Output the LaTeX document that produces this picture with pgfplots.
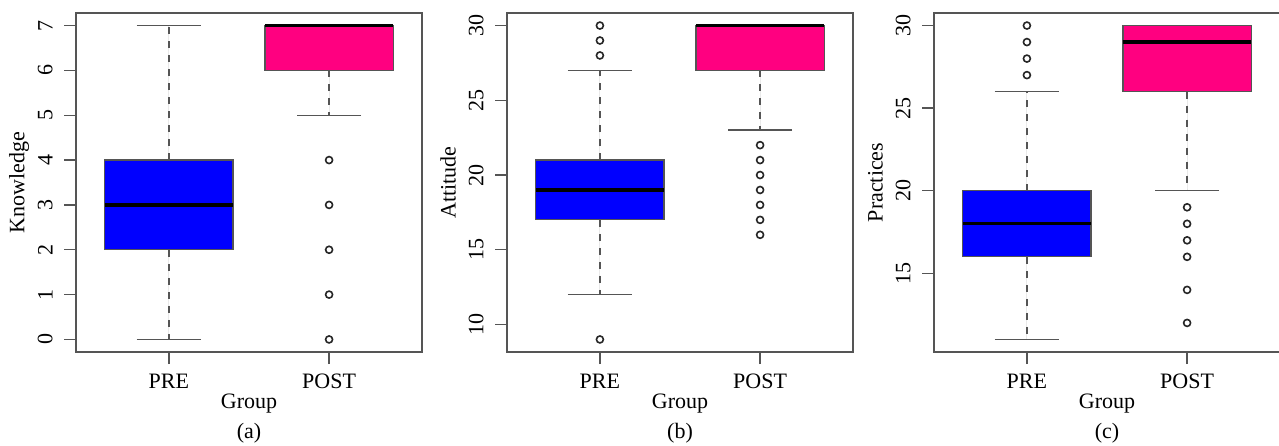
\documentclass[border=0pt]{standalone}
\usepackage{fontspec}
\setmainfont{Liberation Serif}
\usepackage{pgfplots}
\pgfplotsset{compat=1.18}
\usepgfplotslibrary{statistics}
\definecolor{rblue}{RGB}{0,0,255}
\definecolor{rpink}{RGB}{255,0,128}
\definecolor{rgray}{RGB}{85,85,85}
\newcommand{\fs}{\fontsize{11}{13}\selectfont}
\pgfplotsset{
  panel/.style={
    scale only axis, width=173pt, height=169.5pt, anchor=south west,
    xmin=0.42, xmax=2.58, xtick={1,2}, xticklabels={PRE,POST},
    xtick pos=bottom, ytick pos=left, tick align=outside,
    major tick length=6pt,
    axis line style={rgray, line width=0.7pt},
    tick style={rgray, line width=0.7pt},
    /pgf/number format/assume math mode=true,
    tick label style={font=\fs},
    xticklabel style={anchor=base},
    xticklabel shift=12pt,
    yticklabel style={rotate=90, anchor=south, inner sep=0pt},
    yticklabel shift=5.5pt,
    every axis x label/.style={at={([yshift=-28pt]axis description cs:0.5,0)}, anchor=base, font=\fs},
    every axis y label/.style={at={([xshift=-25.75pt]axis description cs:0,0.5)}, rotate=90, anchor=base, font=\fs},
    xlabel=Group,
    clip=false,
    boxplot/draw direction=y,
    boxplot/box extend=0.8,
    boxplot/whisker extend=0.4,
    boxplot/every median/.style={black, line width=1.6pt},
    boxplot/draw/lower whisker/.code={%
      \draw[rgray, line width=0.7pt, dash pattern=on 3.5pt off 3.5pt]
        (boxplot box cs:\pgfplotsboxplotvalue{lower quartile},0.5) --
        (boxplot box cs:\pgfplotsboxplotvalue{lower whisker},0.5);
      \draw[rgray, line width=0.7pt]
        (boxplot whisker cs:\pgfplotsboxplotvalue{lower whisker},0) --
        (boxplot whisker cs:\pgfplotsboxplotvalue{lower whisker},1);
    },
    boxplot/draw/upper whisker/.code={%
      \draw[rgray, line width=0.7pt, dash pattern=on 3.5pt off 3.5pt]
        (boxplot box cs:\pgfplotsboxplotvalue{upper quartile},0.5) --
        (boxplot box cs:\pgfplotsboxplotvalue{upper whisker},0.5);
      \draw[rgray, line width=0.7pt]
        (boxplot whisker cs:\pgfplotsboxplotvalue{upper whisker},0) --
        (boxplot whisker cs:\pgfplotsboxplotvalue{upper whisker},1);
    },
  },
  rbox/.style={draw=rgray, line width=0.6pt, mark=o, mark size=1.75pt,
    mark options={draw=black!85, line width=0.8pt, solid}},
}
\begin{document}
\begin{tikzpicture}
\useasboundingbox (0,0) rectangle (639.5pt,222.5pt);
% (a)
\begin{axis}[panel, at={(38pt,46.5pt)}, ymin=-0.28, ymax=7.28, ytick={0,1,...,7}, ylabel=Knowledge]
\addplot[rbox, fill=rblue, boxplot prepared={lower whisker=0, lower quartile=2, median=3, upper quartile=4, upper whisker=7, draw position=1}] coordinates {};
\addplot[rbox, fill=rpink, boxplot prepared={lower whisker=5, lower quartile=6, median=7, upper quartile=7, upper whisker=7, draw position=2}] table[row sep=\\, y index=0] {data\\ 4\\ 3\\ 2\\ 1\\ 0\\};
\draw[rgray, line width=1.1pt] (axis cs:1,-0.28) -- (axis cs:2,-0.28);
\node[font=\fs, anchor=base] at ([yshift=-43pt]axis description cs:0.5,0) {(a)};
\end{axis}
% (b)
\begin{axis}[panel, at={(253.5pt,46.5pt)}, ymin=8.16, ymax=30.84, ytick={10,15,...,30}, ylabel=Attitude]
\addplot[rbox, fill=rblue, boxplot prepared={lower whisker=12, lower quartile=17, median=19, upper quartile=21, upper whisker=27, draw position=1}] table[row sep=\\, y index=0] {data\\ 28\\ 29\\ 30\\ 9\\};
\addplot[rbox, fill=rpink, boxplot prepared={lower whisker=23, lower quartile=27, median=30, upper quartile=30, upper whisker=30, draw position=2}] table[row sep=\\, y index=0] {data\\ 22\\ 21\\ 20\\ 19\\ 18\\ 17\\ 16\\};
\draw[rgray, line width=1.1pt] (axis cs:1,8.16) -- (axis cs:2,8.16);
\node[font=\fs, anchor=base] at ([yshift=-43pt]axis description cs:0.5,0) {(b)};
\end{axis}
% (c)
\begin{axis}[panel, at={(467pt,46.5pt)}, ymin=10.24, ymax=30.76, ytick={15,20,25,30}, ylabel=Practices]
\addplot[rbox, fill=rblue, boxplot prepared={lower whisker=11, lower quartile=16, median=18, upper quartile=20, upper whisker=26, draw position=1}] table[row sep=\\, y index=0] {data\\ 27\\ 28\\ 29\\ 30\\};
\addplot[rbox, fill=rpink, boxplot prepared={lower whisker=20, lower quartile=26, median=29, upper quartile=30, upper whisker=30, draw position=2}] table[row sep=\\, y index=0] {data\\ 19\\ 18\\ 17\\ 16\\ 14\\ 12\\};
\draw[rgray, line width=1.1pt] (axis cs:1,10.24) -- (axis cs:2,10.24);
\node[font=\fs, anchor=base] at ([yshift=-43pt]axis description cs:0.5,0) {(c)};
\end{axis}
\end{tikzpicture}
\end{document}
